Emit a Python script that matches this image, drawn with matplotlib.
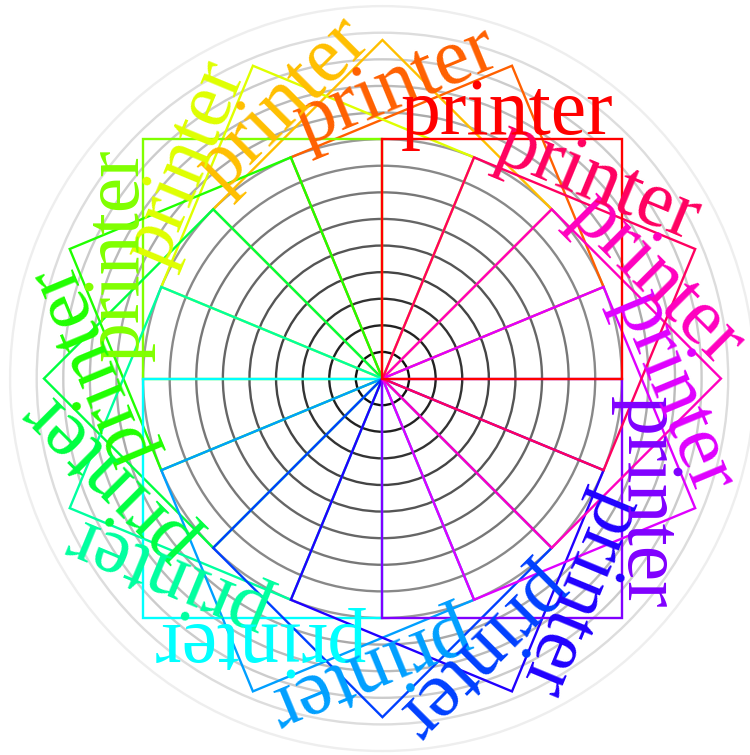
import numpy as np
import matplotlib
matplotlib.use("Agg")
import matplotlib.pyplot as plt
from matplotlib.colors import hsv_to_rgb
from matplotlib.patches import Circle, Polygon

# data (in grid units, centre of the rings at 0,0)
ring_radii = list(range(1, 15))
ring_grays = [r * 17 / 255 for r in ring_radii]          # #111 ... #eee
angles = [22.5 * k for k in range(1, 17)]                # drawn order, 360 = red on top
hues = [a / 360 % 1.0 for a in angles]
label = "printer"
box_size = 9
label_pos = (4.67, 9.2)
font_units = 3

xlim = (-14.38, 13.82)
ylim = (-14.15, 14.23)

fig = plt.figure(figsize=(7.5, 7.55), dpi=100)
ax = fig.add_axes([0, 0, 1, 1])
ax.set_xlim(*xlim)
ax.set_ylim(*ylim)
ax.axis("off")

px_per_unit = 750 / (xlim[1] - xlim[0])
fontsize = font_units * px_per_unit * 72 / 100

for r, g in zip(ring_radii, ring_grays):
    ax.add_patch(Circle((0, 0), r, fill=False, edgecolor=(g, g, g), lw=1.7))

corners = np.array([[0, 0], [0, box_size], [box_size, box_size], [box_size, 0]])
for a, h in zip(angles, hues):
    t = np.radians(a)
    rot = np.array([[np.cos(t), -np.sin(t)], [np.sin(t), np.cos(t)]])
    col = hsv_to_rgb((h, 1, 1))
    pts = corners @ rot.T
    ax.add_patch(Polygon(pts, closed=True, fill=False, edgecolor=col, lw=1.7,
                         joinstyle="miter"))
    tx, ty = rot @ np.array(label_pos)
    ax.text(tx, ty, label, color=col, fontsize=fontsize, family="Liberation Serif",
            rotation=a % 360, rotation_mode="anchor", ha="center", va="baseline")

fig.savefig("out.png", dpi=100)
